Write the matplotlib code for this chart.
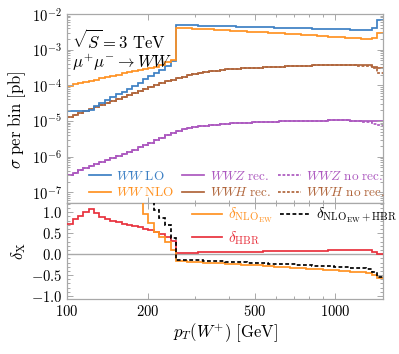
import numpy as np
import matplotlib
matplotlib.use("Agg")
import matplotlib.pyplot as plt
from matplotlib.lines import Line2D
from matplotlib.ticker import FixedLocator, FuncFormatter, LogLocator, NullFormatter, MultipleLocator

plt.rcParams['mathtext.fontset'] = 'cm'
plt.rcParams['font.family'] = ['serif']
plt.rcParams['font.serif'] = ['DejaVu Serif']

# ---------------- data ----------------
bin_edges = [100, 105, 110, 115, 121, 126, 132, 139, 145, 152, 160, 167, 175, 184, 192,
             201, 211, 221, 232, 243, 254, 267, 279, 293, 307, 321, 337, 353, 370, 387,
             406, 425, 446, 467, 489, 513, 537, 563, 590, 618, 647, 678, 711, 745, 780,
             818, 857, 898, 941, 986, 1033, 1082, 1134, 1188, 1245, 1304, 1367, 1432, 1500]

ww_lo = [1.85e-5, 1.85e-5, 1.89e-5, 1.96e-5, 2.08e-5, 2.57e-5, 3.26e-5, 3.96e-5, 4.75e-5, 5.59e-5,
         6.62e-5, 7.85e-5, 9.6e-5, 1.18e-4, 1.48e-4, 1.80e-4, 2.18e-4, 2.68e-4, 3.42e-4, 4.71e-4,
         4.91e-3, 4.86e-3, 4.82e-3, 4.77e-3, 4.73e-3, 4.69e-3, 4.64e-3, 4.60e-3, 4.56e-3, 4.51e-3,
         4.47e-3, 4.43e-3, 4.39e-3, 4.35e-3, 4.31e-3, 4.27e-3, 4.23e-3, 4.19e-3, 4.15e-3, 4.11e-3,
         4.08e-3, 4.04e-3, 4.00e-3, 3.96e-3, 3.93e-3, 3.89e-3, 3.86e-3, 3.82e-3, 3.78e-3, 3.75e-3,
         3.72e-3, 3.68e-3, 3.65e-3, 3.61e-3, 3.58e-3, 3.55e-3, 4.14e-3, 6.80e-3]

ww_nlo = [9.81e-5, 1.06e-4, 1.14e-4, 1.25e-4, 1.34e-4, 1.45e-4, 1.57e-4, 1.71e-4, 1.84e-4, 1.99e-4,
          2.15e-4, 2.34e-4, 2.53e-4, 2.72e-4, 2.89e-4, 3.12e-4, 3.31e-4, 3.75e-4, 4.37e-4, 5.14e-4,
          4.11e-3, 4.04e-3, 3.96e-3, 3.90e-3, 3.83e-3, 3.76e-3, 3.68e-3, 3.62e-3, 3.55e-3, 3.48e-3,
          3.42e-3, 3.35e-3, 3.29e-3, 3.22e-3, 3.16e-3, 3.10e-3, 3.04e-3, 2.98e-3, 2.92e-3, 2.86e-3,
          2.80e-3, 2.75e-3, 2.69e-3, 2.63e-3, 2.57e-3, 2.51e-3, 2.45e-3, 2.39e-3, 2.33e-3, 2.28e-3,
          2.22e-3, 2.17e-3, 2.12e-3, 2.07e-3, 2.02e-3, 1.97e-3, 2.11e-3, 2.99e-3]

wwz_rec = [3.06e-7, 3.57e-7, 4.12e-7, 4.74e-7, 5.46e-7, 6.21e-7, 7.02e-7, 7.93e-7, 9.08e-7, 1.03e-6,
           1.18e-6, 1.35e-6, 1.56e-6, 1.80e-6, 2.07e-6, 2.41e-6, 2.83e-6, 3.35e-6, 3.91e-6, 4.59e-6,
           5.19e-6, 5.83e-6, 6.25e-6, 6.67e-6, 7.07e-6, 7.30e-6, 7.58e-6, 7.83e-6, 8.09e-6, 8.35e-6,
           8.54e-6, 8.68e-6, 8.85e-6, 9.02e-6, 9.16e-6, 9.32e-6, 9.44e-6, 9.53e-6, 9.64e-6, 9.74e-6,
           9.87e-6, 9.97e-6, 1.007e-5, 1.016e-5, 1.020e-5, 1.023e-5, 1.026e-5, 1.029e-5, 1.033e-5, 1.036e-5,
           1.039e-5, 1.033e-5, 1.026e-5, 1.023e-5, 1.016e-5, 1.007e-5, 9.87e-6, 1.007e-5]

wwz_norec = wwz_rec[:52] + [1.007e-5, 9.80e-6, 9.49e-6, 9.13e-6, 8.43e-6, 7.48e-6]

wwh_rec = [1.31e-5, 1.49e-5, 1.70e-5, 1.93e-5, 2.19e-5, 2.48e-5, 2.83e-5, 3.20e-5, 3.67e-5, 4.14e-5,
           4.71e-5, 5.36e-5, 6.09e-5, 6.93e-5, 7.88e-5, 8.97e-5, 1.02e-4, 1.15e-4, 1.30e-4, 1.44e-4,
           1.58e-4, 1.74e-4, 1.91e-4, 2.10e-4, 2.26e-4, 2.40e-4, 2.49e-4, 2.59e-4, 2.69e-4, 2.80e-4,
           2.87e-4, 2.93e-4, 2.97e-4, 3.02e-4, 3.08e-4, 3.12e-4, 3.18e-4, 3.22e-4, 3.29e-4, 3.33e-4,
           3.39e-4, 3.46e-4, 3.51e-4, 3.55e-4, 3.57e-4, 3.62e-4, 3.64e-4, 3.67e-4, 3.71e-4, 3.74e-4,
           3.76e-4, 3.76e-4, 3.74e-4, 3.71e-4, 3.69e-4, 3.64e-4, 3.20e-4, 3.00e-4]

wwh_norec = wwh_rec[:52] + [3.67e-4, 3.57e-4, 3.48e-4, 3.37e-4, 3.00e-4, 2.25e-4]

delta_nlo = [4.3, 4.7, 5.1, 5.4, 5.5, 4.7, 3.8, 3.3, 2.9, 2.6, 2.25, 2.0, 1.7, 1.3, 0.95, 0.74, 0.52, 0.40, 0.28, 0.09,
             -0.16, -0.17, -0.18, -0.18, -0.19, -0.20, -0.21, -0.21, -0.22, -0.23,
             -0.24, -0.24, -0.25, -0.26, -0.27, -0.27, -0.28, -0.29, -0.30, -0.31,
             -0.31, -0.32, -0.33, -0.34, -0.345, -0.355, -0.36, -0.37, -0.38, -0.39,
             -0.40, -0.41, -0.42, -0.43, -0.435, -0.445, -0.49, -0.56]

delta_hbr = [0.72, 0.83, 0.92, 1.01, 1.08, 0.99, 0.89, 0.83, 0.79, 0.76, 0.73, 0.70, 0.67, 0.64, 0.61, 0.57, 0.53, 0.48, 0.42, 0.31,
             0.033, 0.034, 0.036, 0.038, 0.040, 0.042, 0.044, 0.046, 0.048, 0.050,
             0.052, 0.054, 0.056, 0.058, 0.060, 0.062, 0.064, 0.066, 0.068, 0.070,
             0.072, 0.074, 0.076, 0.078, 0.080, 0.082, 0.084, 0.086, 0.088, 0.090,
             0.092, 0.094, 0.095, 0.096, 0.097, 0.097, 0.055, 0.012]

delta_nlo_hbr = [5.0, 5.5, 6.0, 6.4, 6.6, 5.7, 4.7, 4.1, 3.7, 3.4, 3.0, 2.7, 2.4, 1.9, 1.56, 1.31, 1.05, 0.87, 0.69, 0.38,
                 -0.13, -0.136, -0.141, -0.145, -0.150, -0.156, -0.162, -0.167, -0.173, -0.179,
                 -0.184, -0.190, -0.195, -0.201, -0.207, -0.212, -0.218, -0.224, -0.229, -0.235,
                 -0.241, -0.246, -0.252, -0.258, -0.265, -0.273, -0.280, -0.288, -0.295, -0.302,
                 -0.311, -0.317, -0.324, -0.332, -0.339, -0.347, -0.43, -0.54]

x_major = [100, 200, 500, 1000]

# ---------------- style ----------------
c_lo = '#3d80c4'
c_nlo = '#ff9222'
c_wwz = '#ac58bf'
c_wwh = '#b0653b'
c_hbr = '#e8313d'
c_spine = '#a8a8a8'
lw = 1.25
dash = (0, (1.6, 1.0))
dash_k = (0, (2.2, 1.4))

fig = plt.figure(figsize=(3.99, 3.54), dpi=100)
ax1 = fig.add_axes([0.168, 0.4266, 0.7912, 0.5339])
ax2 = fig.add_axes([0.168, 0.1554, 0.7912, 0.2712])

edges = np.array(bin_edges, dtype=float)

# ---- top panel ----
ax1.stairs(wwh_rec, edges, baseline=None, color=c_wwh, lw=lw)
ax1.stairs(wwh_norec, edges, baseline=None, color=c_wwh, lw=lw, linestyle=dash)
ax1.stairs(wwz_rec, edges, baseline=None, color=c_wwz, lw=lw)
ax1.stairs(wwz_norec, edges, baseline=None, color=c_wwz, lw=lw, linestyle=dash)
ax1.stairs(ww_lo, edges, baseline=None, color=c_lo, lw=lw)
ax1.stairs(ww_nlo, edges, baseline=None, color=c_nlo, lw=lw)

ax1.set_xscale('log')
ax1.set_yscale('log')
ax1.set_xlim(100, 1500)
ax1.set_ylim(5e-8, 1e-2)

ax1.yaxis.set_major_locator(FixedLocator([1e-7, 1e-6, 1e-5, 1e-4, 1e-3, 1e-2]))
ax1.yaxis.set_major_formatter(FuncFormatter(lambda v, p: r'$10^{%d}$' % int(round(np.log10(v)))))
ax1.yaxis.set_minor_locator(LogLocator(base=10, subs=np.arange(2, 10)))
ax1.yaxis.set_minor_formatter(NullFormatter())

for ax in (ax1, ax2):
    ax.xaxis.set_major_locator(FixedLocator(x_major))
    ax.xaxis.set_minor_locator(LogLocator(base=10, subs=np.arange(1, 10)))
    ax.xaxis.set_minor_formatter(NullFormatter())
    ax.tick_params(which='both', direction='in', top=True, right=True,
                   color=c_spine, labelsize=10.5, width=0.7)
    ax.tick_params(which='major', length=4)
    ax.tick_params(which='minor', length=2)
    for s in ax.spines.values():
        s.set_color(c_spine)
        s.set_linewidth(0.9)

ax1.tick_params(labelbottom=False)
ax1.set_ylabel(r'$\sigma\ \mathrm{per\ bin\ [pb]}$', fontsize=12)
ax1.yaxis.set_label_coords(-0.125, 0.44)

ax1.text(0.016, 0.815, r'$\sqrt{S}=3\ \mathrm{TeV}$', transform=ax1.transAxes,
         fontsize=12, va='baseline', ha='left')
ax1.text(0.016, 0.712, r'$\mu^{+}\mu^{-}\rightarrow WW$', transform=ax1.transAxes,
         fontsize=12, va='baseline', ha='left')

h_top = [Line2D([], [], color=c_lo, lw=lw),
         Line2D([], [], color=c_nlo, lw=lw),
         Line2D([], [], color=c_wwz, lw=lw),
         Line2D([], [], color=c_wwh, lw=lw),
         Line2D([], [], color=c_wwz, lw=lw, linestyle=dash),
         Line2D([], [], color=c_wwh, lw=lw, linestyle=dash)]
l_top = [r'$WW\ \mathrm{LO}$', r'$WW\ \mathrm{NLO}$',
         r'$WWZ\ \mathrm{rec.}$', r'$WWH\ \mathrm{rec.}$',
         r'$WWZ\ \mathrm{no\ rec.}$', r'$WWH\ \mathrm{no\ rec.}$']
leg1 = ax1.legend(h_top, l_top, ncol=3, loc='lower left', bbox_to_anchor=(0.06, 0.005),
                  frameon=False, fontsize=9.5, handlelength=1.7, handletextpad=0.4,
                  columnspacing=0.55, labelspacing=0.25, borderaxespad=0.0, borderpad=0.2)
for t, h in zip(leg1.get_texts(), h_top):
    t.set_color(h.get_color())

# ---- bottom panel ----
ax2.axhline(0.0, color='#aaaaaa', lw=1.0, zorder=1)
ax2.stairs(delta_hbr, edges, baseline=None, color=c_hbr, lw=lw, zorder=3)
ax2.stairs(delta_nlo, edges, baseline=None, color=c_nlo, lw=lw, zorder=3)
ax2.stairs(delta_nlo_hbr, edges, baseline=None, color='black', lw=lw, linestyle=dash_k, zorder=4)

ax2.set_xscale('log')
ax2.set_xlim(100, 1500)
ax2.set_ylim(-1.07, 1.22)
ax2.xaxis.set_major_locator(FixedLocator(x_major))
ax2.xaxis.set_major_formatter(FuncFormatter(lambda v, p: r'$%d$' % int(round(v))))
ax2.yaxis.set_major_locator(FixedLocator([-1.0, -0.5, 0.0, 0.5, 1.0]))
ax2.yaxis.set_major_formatter(FuncFormatter(lambda v, p: r'$%.1f$' % v if abs(v) > 1e-9 else r'$0.0$'))
ax2.yaxis.set_minor_locator(MultipleLocator(0.1))

ax2.set_ylabel(r'$\delta_{\mathrm{X}}$', fontsize=12)
ax2.yaxis.set_label_coords(-0.125, 0.5)
ax2.set_xlabel(r'$p_T(W^{+})\ [\mathrm{GeV}]$', fontsize=12)
ax2.xaxis.set_label_coords(0.5, -0.23)

h_bot = [Line2D([], [], color=c_nlo, lw=lw),
         Line2D([], [], color=c_hbr, lw=lw),
         Line2D([], [], color='black', lw=lw, linestyle=dash_k)]
l_bot = [r'$\delta_{\mathrm{NLO}_{\mathrm{EW}}}$', r'$\delta_{\mathrm{HBR}}$',
         r'$\delta_{\mathrm{NLO}_{\mathrm{EW}}+\mathrm{HBR}}$']
leg2 = ax2.legend(h_bot, l_bot, ncol=2, loc='upper left', bbox_to_anchor=(0.385, 1.0),
                  frameon=False, fontsize=11, handlelength=2.0, handletextpad=0.35,
                  columnspacing=0.5, labelspacing=0.25, borderaxespad=0.0, borderpad=0.2)
for t, h in zip(leg2.get_texts(), h_bot):
    t.set_color(h.get_color())

fig.savefig('out.png', dpi=100)
